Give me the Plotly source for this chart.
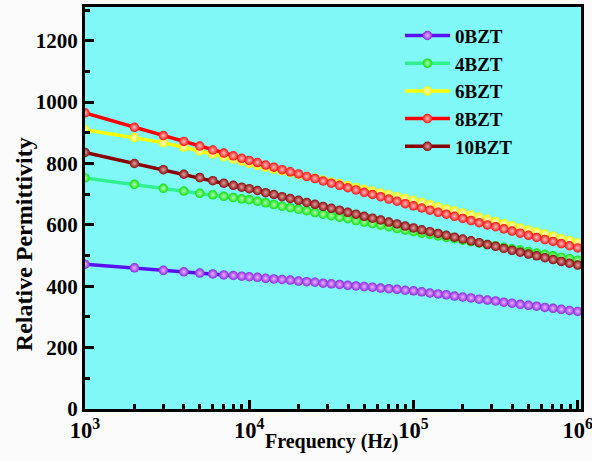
import plotly.graph_objects as go

# Frequencies (Hz)
freq = [1000, 2000, 3000, 4000, 5000, 6000, 7000, 8000, 9000,
        10000, 11220, 12590, 14130, 15850, 17780, 19950, 22390, 25120, 28180,
        31620, 35480, 39810, 44670, 50120, 56230, 63100, 70790, 79430, 89130,
        100000, 112200, 125900, 141300, 158500, 177800, 199500, 223900, 251200, 281800,
        316200, 354800, 398100, 446700, 501200, 562300, 631000, 707900, 794300, 891300,
        1000000]

bzt0 = [472, 460, 452, 447, 443, 440, 437, 435, 433,
        431, 429, 426, 424, 422, 420, 417, 415, 413, 410,
        408, 406, 403, 401, 399, 397, 394, 392, 390, 387,
        385, 382, 378, 375, 372, 368, 365, 362, 358, 355,
        352, 348, 345, 341, 338, 335, 331, 328, 325, 321,
        318]

bzt4 = [753, 732, 719, 710, 703, 698, 693, 689, 685,
        682, 677, 672, 666, 661, 656, 651, 646, 640, 635,
        630, 625, 620, 614, 609, 604, 599, 594, 588, 583,
        578, 573, 569, 564, 559, 555, 550, 545, 541, 536,
        532, 527, 522, 518, 513, 508, 504, 499, 494, 490,
        485]

bzt6 = [910, 885, 868, 853, 841, 831, 822, 815, 808,
        800, 794, 788, 782, 776, 770, 764, 758, 752, 746,
        740, 734, 728, 722, 716, 710, 704, 698, 692, 686,
        680, 673, 666, 659, 652, 646, 639, 632, 625, 618,
        611, 604, 597, 590, 583, 577, 570, 563, 556, 549,
        542]

bzt8 = [965, 918, 891, 872, 857, 844, 834, 825, 817,
        810, 803, 795, 788, 780, 773, 766, 758, 751, 743,
        736, 729, 721, 714, 706, 699, 692, 684, 677, 669,
        662, 655, 648, 641, 635, 628, 621, 614, 607, 600,
        594, 587, 580, 573, 566, 559, 552, 546, 539, 532,
        525]

bzt10 = [836, 800, 780, 765, 754, 744, 736, 729, 723,
         718, 712, 705, 699, 692, 686, 680, 673, 667, 660,
         654, 648, 641, 635, 628, 622, 616, 609, 603, 596,
         590, 584, 578, 572, 566, 560, 554, 548, 542, 536,
         530, 523, 517, 511, 505, 499, 493, 487, 481, 475,
         469]

names = ["0BZT", "4BZT", "6BZT", "8BZT", "10BZT"]
series = [bzt0, bzt4, bzt6, bzt8, bzt10]
line_colors = ["#5a10f0", "#30f090", "#ffff00", "#ff0000", "#8b0000"]
marker_colors = ["#8a2be2", "#10e010", "#f5f500", "#ff1010", "#8b0a0a"]
highlight = ["#f0b0ff", "#b0ffb0", "#ffffe0", "#ffc0c0", "#e0a0a0"]

FONT = "Liberation Serif"

fig = go.Figure()
for name, ys, lc, mc, hc in zip(names, series, line_colors, marker_colors, highlight):
    fig.add_trace(go.Scatter(
        x=freq, y=ys, name=name, mode="lines+markers",
        line=dict(color=lc, width=3.5),
        marker=dict(size=9.5, color=mc, line=dict(width=0),
                    gradient=dict(type="radial", color=hc)),
    ))

fig.update_layout(
    width=592, height=461,
    margin=dict(l=85, r=11, t=7, b=52, autoexpand=False),
    paper_bgcolor="#fbfbfb",
    plot_bgcolor="#80f8f8",
    font=dict(family=FONT, color="black"),
    legend=dict(
        x=0.635, y=0.976, xanchor="left", yanchor="top",
        bgcolor="rgba(0,0,0,0)", itemwidth=45,
        font=dict(family=FONT, size=19, weight="bold", color="black"),
    ),
    annotations=[
        dict(text="Frequency (Hz)", xref="paper", yref="paper",
             x=0.497, y=-0.08, xanchor="center", yanchor="middle", showarrow=False,
             font=dict(family=FONT, size=20, weight="bold", color="black")),
        dict(text="Relative Permittivity", xref="paper", yref="paper",
             x=-0.123, y=0.41, xanchor="center", yanchor="middle", showarrow=False,
             textangle=-90,
             font=dict(family=FONT, size=24, weight="bold", color="black")),
    ],
)

fig.update_xaxes(
    type="log", range=[3, 6.02], automargin=False,
    dtick=1, exponentformat="power", ticklabeloverflow="allow",
    showline=True, linecolor="black", linewidth=3, mirror=True,
    ticks="inside", ticklen=9, tickwidth=3, tickcolor="black",
    minor=dict(ticks="inside", ticklen=5, tickwidth=2.5, tickcolor="black", dtick="D1", showgrid=False),
    showgrid=False, zeroline=False,
    tickfont=dict(family=FONT, size=18, weight="bold"),
)

fig.update_yaxes(
    range=[0, 1310], dtick=200, tick0=0, automargin=False,
    showline=True, linecolor="black", linewidth=3, mirror=True,
    ticks="inside", ticklen=9, tickwidth=3, tickcolor="black",
    minor=dict(ticks="inside", ticklen=5, tickwidth=2.5, tickcolor="black", dtick=100, showgrid=False),
    showgrid=False, zeroline=False,
    tickfont=dict(family=FONT, size=21, weight="bold"),
)

fig.write_html("out.html", config={"displayModeBar": False},
               post_script="document.body.style.margin='0px';")
